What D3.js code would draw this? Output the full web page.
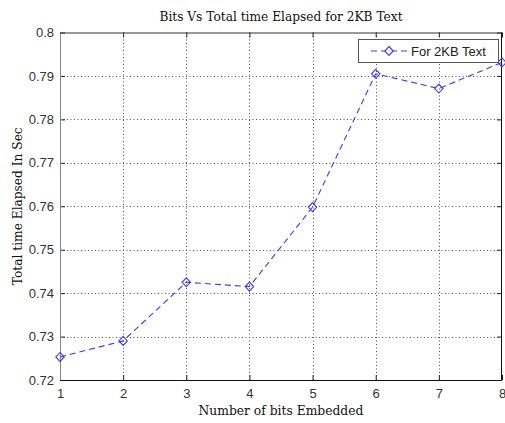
<!DOCTYPE html>
<html><head><meta charset="utf-8">
<script src="https://cdn.jsdelivr.net/npm/d3@7"></script>
<style>body{margin:0;background:#fff}svg{display:block}</style>
</head><body>
<script>
const bits = [1,2,3,4,5,6,7,8];
const timeElapsed = [0.7253,0.7290,0.7425,0.7415,0.7598,0.7905,0.7871,0.7931];
const xTicks = [1,2,3,4,5,6,7,8];
const yTicks = [0.72,0.73,0.74,0.75,0.76,0.77,0.78,0.79,0.8];
const seriesName = "For 2KB Text";
const titleText = "Bits Vs Total time Elapsed for 2KB Text";
const xLabel = "Number of bits Embedded";
const yLabel = "Total time Elapsed In Sec";

const W=505,H=423;
const m={l:60,r:3,t:32.5,b:43};
const svg=d3.select("body").append("svg").attr("width",W).attr("height",H);
const x=d3.scaleLinear().domain([1,8]).range([m.l,W-m.r]);
const y=d3.scaleLinear().domain([0.72,0.8]).range([H-m.b,m.t]);
const L=m.l,R=W-m.r,T=m.t,B=H-m.b;

// grid
const g=svg.append("g");
g.selectAll(".vg").data(xTicks.slice(1,-1)).join("line")
 .attr("x1",d=>Math.round(x(d))+0.5).attr("x2",d=>Math.round(x(d))+0.5)
 .attr("y1",T).attr("y2",B).attr("stroke","#555").attr("stroke-width",1).attr("stroke-dasharray","1,2.5");
g.selectAll(".hg").data(yTicks.slice(1,-1)).join("line")
 .attr("y1",d=>Math.round(y(d))+0.5).attr("y2",d=>Math.round(y(d))+0.5)
 .attr("x1",L).attr("x2",R).attr("stroke","#555").attr("stroke-width",1).attr("stroke-dasharray","1,2.5");

// axes via d3
const xa=svg.append("g").attr("transform",`translate(0,${B})`)
 .call(d3.axisBottom(x).tickValues(xTicks).tickSize(-5).tickPadding(9).tickFormat(d3.format("d")));
const xt=svg.append("g").attr("transform",`translate(0,${T})`)
 .call(d3.axisTop(x).tickValues(xTicks).tickSize(-5).tickFormat(""));
const ya=svg.append("g").attr("transform",`translate(${L},0)`)
 .call(d3.axisLeft(y).tickValues(yTicks).tickSize(-5).tickPadding(6).tickFormat(d=>d3.format("")(+d.toFixed(2))));
const yr=svg.append("g").attr("transform",`translate(${R},0)`)
 .call(d3.axisRight(y).tickValues(yTicks).tickSize(-5).tickFormat(""));
[xa,xt,ya,yr].forEach(a=>{a.select(".domain").remove();a.selectAll(".tick line").attr("stroke","#222");
 a.selectAll("text").attr("font-family","Liberation Sans, Arial, sans-serif").attr("font-size","13px").attr("fill","#333");});

// frame
svg.append("line").attr("x1",L+0.5).attr("x2",L+0.5).attr("y1",T).attr("y2",B).attr("stroke","#888");
svg.append("line").attr("x1",L).attr("x2",R).attr("y1",B+0.5).attr("y2",B+0.5).attr("stroke","#111");
svg.append("line").attr("x1",L).attr("x2",R).attr("y1",T+0.5).attr("y2",T+0.5).attr("stroke","#333");
svg.append("line").attr("x1",R-0.5).attr("x2",R-0.5).attr("y1",T).attr("y2",B).attr("stroke","#111");

// series
const data=bits.map((b,i)=>({b,v:timeElapsed[i]}));
const col="#3a3aff";
const dia="M0,-4.5L4.2,0L0,4.5L-4.2,0Z";
svg.append("path").datum(data).attr("fill","none").attr("stroke",col).attr("stroke-width",1.1)
 .attr("stroke-dasharray","6,4").attr("d",d3.line().x(d=>x(d.b)).y(d=>y(d.v)));
svg.selectAll(".pt").data(data).join("path").attr("d",dia)
 .attr("transform",d=>`translate(${x(d.b)},${y(d.v)})`)
 .attr("fill","none").attr("stroke",col).attr("stroke-width",1.1);

// legend
const lg=svg.append("g");
lg.append("rect").attr("x",358.5).attr("y",39.5).attr("width",140).attr("height",23)
 .attr("fill","#fff").attr("stroke","#555");
lg.append("line").attr("x1",371).attr("x2",407).attr("y1",51).attr("y2",51)
 .attr("stroke",col).attr("stroke-width",1.1).attr("stroke-dasharray","6,4");
lg.append("path").attr("d",dia).attr("transform","translate(389,51)")
 .attr("fill","#fff").attr("stroke",col).attr("stroke-width",1.1);
lg.append("text").attr("x",411).attr("y",55.5).text(seriesName)
 .attr("font-family","Liberation Sans, Arial, sans-serif").attr("font-size","13px").attr("fill","#222");

// titles
const serif="DejaVu Serif, serif";
svg.append("text").attr("x",(L+R)/2).attr("y",21).attr("text-anchor","middle")
 .attr("font-family",serif).attr("font-size","12.2px").attr("fill","#111").text(titleText);
svg.append("text").attr("x",(L+R)/2).attr("y",415).attr("text-anchor","middle")
 .attr("font-family",serif).attr("font-size","12.3px").attr("fill","#111").text(xLabel);
svg.append("text").attr("transform",`translate(22,${(T+B)/2}) rotate(-90)`).attr("text-anchor","middle")
 .attr("font-family",serif).attr("font-size","12.2px").attr("fill","#111").text(yLabel);
</script>
</body></html>
